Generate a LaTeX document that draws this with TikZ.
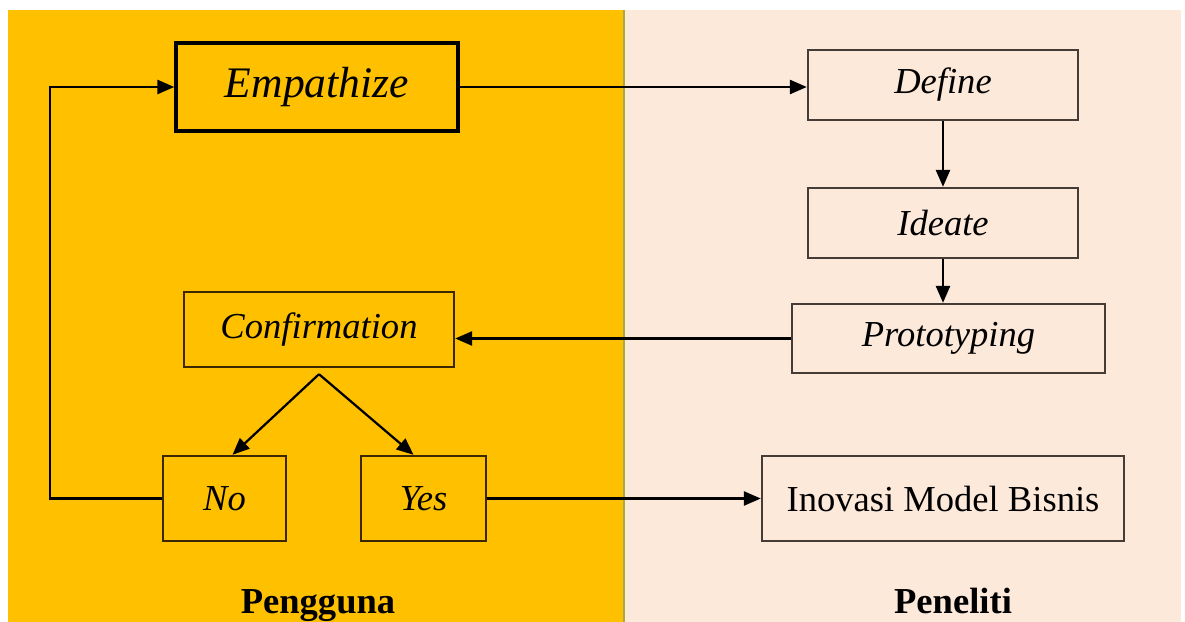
\documentclass[tikz,border=0pt]{standalone}
\usepackage{fontspec}
\setmainfont{Liberation Serif}
\usetikzlibrary{arrows.meta,calc}
\definecolor{userzone}{RGB}{255,192,0}
\definecolor{researchzone}{RGB}{253,233,218}
\definecolor{zoneline}{RGB}{165,172,70}
\definecolor{boxline}{RGB}{70,60,55}
\definecolor{userline}{RGB}{60,40,0}

\begin{document}
\begin{tikzpicture}[
        x=0.025cm, y=-0.025cm,
        phasebox/.style={draw=userline, line width=1.7pt, inner sep=0pt, font=\fontsize{26}{30}\selectfont\itshape},
        researchbox/.style={phasebox, draw=boxline},
        zonelabel/.style={anchor=base, font=\fontsize{26}{30}\selectfont\bfseries},
        flow/.style={line width=1.6pt, -{Triangle[length=12pt,width=10pt]}}
    ]
        % zones
        \useasboundingbox (0,0) rectangle (1185,622);
        \fill[userzone] (8,10) rectangle (624,622);
        \fill[researchzone] (624,10) rectangle (1181,622);
        \draw[zoneline, line width=1pt] (624,10) -- (624,622);

        % boxes on the user side
        \node[phasebox, draw=black, line width=2.4pt, minimum width=7.05cm, minimum height=2.2cm, font=\fontsize{31}{36}\selectfont\itshape] (empathize) at (317,87) {Empathize};
        \node[phasebox, minimum width=6.75cm, minimum height=1.875cm] (confirm) at (319,329.5) {Confirmation};
        \node[phasebox, minimum width=3.075cm, minimum height=2.125cm] (no) at (224.5,498.5) {No};
        \node[phasebox, minimum width=3.125cm, minimum height=2.125cm] (yes) at (423.5,498.5) {Yes};

        % boxes on the researcher side
        \node[researchbox, minimum width=6.75cm, minimum height=1.75cm] (define) at (943,85) {Define};
        \node[researchbox, minimum width=6.75cm, minimum height=1.75cm] (ideate) at (943,223) {Ideate};
        \node[researchbox, minimum width=7.825cm, minimum height=1.725cm] (proto) at (948.5,338.5) {Prototyping};
        \node[researchbox, minimum width=9.05cm, minimum height=2.125cm, font=\fontsize{26}{30}\selectfont] (bisnis) at (943,498.5) {Inovasi Model Bisnis};

        \node[zonelabel] (pengguna) at (318,613) {Pengguna};
        \node[zonelabel] (peneliti) at (953,613) {Peneliti};

        % connectors
        \coordinate (split) at ($(confirm.south)+(0,6)$);
        \draw[flow] (empathize.east) -- (define.west |- empathize.east);
        \draw[flow] (define.south -| ideate.south) -- (ideate.north);
        \draw[flow] (ideate.south) -- (ideate.south |- proto.north);
        \draw[flow] (proto.west) -- (confirm.east |- proto.west);
        \draw[flow] (split) -- ([xshift=0.2cm]no.north);
        \draw[flow] (split) -- ([xshift=-0.25cm]yes.north);
        \draw[flow] (yes.east) -- (bisnis.west);
        \draw[flow] (no.west) -- ++(-112,0) |- (empathize.west);
    \end{tikzpicture}
\end{document}
